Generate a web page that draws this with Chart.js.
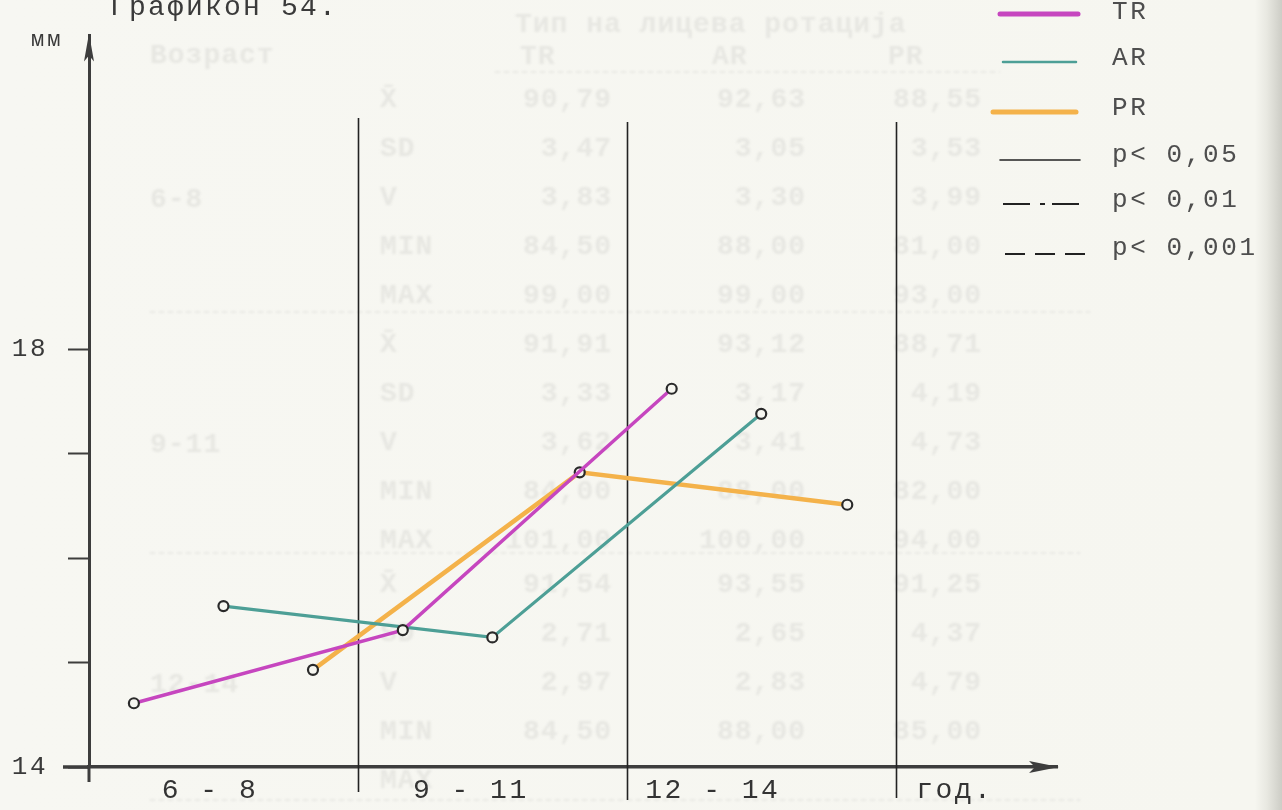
<!DOCTYPE html>
<html>
<head>
<meta charset="utf-8">
<script src="https://cdn.jsdelivr.net/npm/chart.js@4.4.1/dist/chart.umd.min.js"></script>
<style>
  html, body { margin: 0; padding: 0; }
  body {
    width: 1282px; height: 810px; overflow: hidden;
    background: linear-gradient(to right, #f7f7f2 0, #f6f6f0 1255px, #e8e8e1 1267px, #cdcdc6 1282px);
  }
  canvas { display: block; }
</style>
</head>
<body>
<canvas id="chart" width="1282" height="810"></canvas>
<script>
// Data
const titleText = 'Графикон 54.';
const yUnit = 'мм';
const groupLabels = ['6 - 8', '9 - 11', '12 - 14'];
const groupLabelPos = [0.45, 1.42, 2.32];
const xUnit = 'год.';
const xUnitPos = 3.22;
const separators = [1, 2, 3];
const yTickValues = [14, 15, 16, 17, 18];
const yTickLabels = ['14', '', '', '', '18'];

const trX = [0.167, 1.167, 2.167];
const trY = [14.61, 15.31, 17.62];
const arX = [0.5, 1.5, 2.5];
const arY = [15.54, 15.24, 17.38];
const prX = [0.833, 1.825, 2.82];
const prY = [14.93, 16.82, 16.51];

const legendLabels = ['TR', 'AR', 'PR', 'p< 0,05', 'p< 0,01', 'p< 0,001'];

// faint table showing through the paper
const ghostHeader = 'Тип на лицева ротација';
const ghostAge = 'Возраст';
const ghostCols = ['TR', 'AR', 'PR'];
const ghostGroups = ['6-8', '9-11', '12-14'];
const ghostRows = ['X̄', 'SD', 'V', 'MIN', 'MAX'];
const ghostTR = [['90,79', '3,47', '3,83', '84,50', '99,00'], ['91,91', '3,33', '3,62', '84,00', '101,00'], ['91,54', '2,71', '2,97', '84,50', '']];
const ghostAR = [['92,63', '3,05', '3,30', '88,00', '99,00'], ['93,12', '3,17', '3,41', '88,00', '100,00'], ['93,55', '2,65', '2,83', '88,00', '']];
const ghostPR = [['88,55', '3,53', '3,99', '81,00', '93,00'], ['88,71', '4,19', '4,73', '82,00', '94,00'], ['91,25', '4,37', '4,79', '85,00', '']];

const trColor = '#c646bf';
const arColor = '#4d9f96';
const prColor = '#f4b24a';
const dotEdge = '#2a2a2a';
const dotFill = '#f6f6f0';

const pts = (xs, ys) => xs.map((x, i) => ({ x, y: ys[i] }));

const paperPlugin = {
  id: 'paper',
  beforeDraw(chart) {
    const c = chart.ctx;
    c.save();
    c.fillStyle = '#e7e7e2';
    c.strokeStyle = '#e9e9e4';
    c.filter = 'blur(0.8px)';
    c.letterSpacing = '1px';
    c.font = 'bold 28px "Liberation Mono"';
    c.textBaseline = 'middle';
    c.textAlign = 'left';
    c.fillText(ghostHeader, 515, 25);
    c.fillText(ghostAge, 150, 56);
    c.fillText(ghostCols[0], 520, 57);
    c.fillText(ghostCols[1], 712, 57);
    c.fillText(ghostCols[2], 888, 57);
    const bases = [100, 345, 585];
    bases.forEach((b, g) => {
      c.textAlign = 'left';
      c.fillText(ghostGroups[g], 150, b + 100);
      ghostRows.forEach((r, i) => {
        const y = b + i * 49;
        c.textAlign = 'left';
        c.fillText(r, 380, y);
        c.textAlign = 'right';
        c.fillText(ghostTR[g][i], 612, y);
        c.fillText(ghostAR[g][i], 806, y);
        c.fillText(ghostPR[g][i], 982, y);
      });
    });
    c.setLineDash([5, 4]);
    c.lineWidth = 2;
    [[495, 1000, 72], [150, 1090, 312], [150, 1080, 553], [150, 1080, 800]].forEach(([a, b, y]) => {
      c.beginPath(); c.moveTo(a, y); c.lineTo(b, y); c.stroke();
    });
    c.restore();
    // typewriter spacing for the axis labels drawn next
    c.letterSpacing = '2.5px';
  },
  beforeDatasetsDraw(chart) {
    const c = chart.ctx;
    const xs = chart.scales.x;
    c.save();
    c.letterSpacing = '0px';
    c.strokeStyle = '#222';
    c.lineWidth = 1.6;
    const tops = [118, 122, 122];
    const bottoms = [792, 800, 798];
    separators.forEach((v, i) => {
      const px = Math.round(xs.getPixelForValue(v)) + 0.5;
      c.beginPath(); c.moveTo(px, tops[i]); c.lineTo(px, bottoms[i]); c.stroke();
    });
    c.restore();
  },
  afterDraw(chart) {
    const c = chart.ctx;
    const a = chart.chartArea;
    c.save();
    c.letterSpacing = '0px';
    // axis extensions and arrows
    c.strokeStyle = '#3d3d3d';
    c.fillStyle = '#3d3d3d';
    c.lineWidth = 3.5;
    c.beginPath(); c.moveTo(63, a.bottom); c.lineTo(a.left, a.bottom); c.stroke();
    c.lineWidth = 3;
    c.beginPath(); c.moveTo(a.left, a.bottom); c.lineTo(a.left, a.bottom + 15); c.stroke();
    c.beginPath();
    c.moveTo(a.left, a.top - 2); c.lineTo(a.left + 5, a.top + 26); c.lineTo(a.left, a.top + 20); c.lineTo(a.left - 5, a.top + 26);
    c.closePath(); c.fill();
    c.beginPath();
    c.moveTo(a.right + 2, a.bottom); c.lineTo(a.right - 28, a.bottom - 6); c.lineTo(a.right - 22, a.bottom); c.lineTo(a.right - 28, a.bottom + 6);
    c.closePath(); c.fill();

    // title and unit
    c.fillStyle = '#3a3a3a';
    c.textAlign = 'left';
    c.textBaseline = 'alphabetic';
    c.letterSpacing = '2.2px';
    c.font = '28px "Liberation Mono"';
    c.fillText(titleText, 110, 15);
    c.letterSpacing = '3px';
    c.font = '22px "Liberation Mono"';
    c.fillText(yUnit, 31, 46);

    // legend
    const items = [
      { color: trColor, w: 5, dash: [], x0: 1000, x1: 1078, y: 14 },
      { color: arColor, w: 2.5, dash: [], x0: 1003, x1: 1076, y: 62 },
      { color: prColor, w: 5, dash: [], x0: 993, x1: 1076, y: 112 },
      { color: '#222', w: 1.6, dash: [], x0: 1000, x1: 1080, y: 160 },
      { color: '#222', w: 1.8, dash: [27, 10, 5, 7], x0: 1003, x1: 1082, y: 204 },
      { color: '#222', w: 1.8, dash: [20, 10], x0: 1005, x1: 1085, y: 254 }
    ];
    const textY = [12, 58, 108, 155, 200, 248];
    items.forEach((it, i) => {
      c.save();
      c.strokeStyle = it.color;
      c.lineWidth = it.w;
      c.lineCap = it.dash.length ? 'butt' : 'round';
      c.setLineDash(it.dash);
      c.beginPath(); c.moveTo(it.x0, it.y); c.lineTo(it.x1, it.y); c.stroke();
      c.restore();
      c.fillStyle = '#4e4e4e';
      c.textBaseline = 'middle';
      c.letterSpacing = '2.6px';
      c.font = '26px "Liberation Mono"';
      c.fillText(legendLabels[i], 1112, textY[i]);
    });
    c.restore();
  }
};

const ctx = document.getElementById('chart').getContext('2d');
const chart = new Chart(ctx, {
  type: 'line',
  data: {
    datasets: [
      { label: 'TR', data: pts(trX, trY), borderColor: trColor, borderWidth: 3.4 },
      { label: 'AR', data: pts(arX, arY), borderColor: arColor, borderWidth: 3.2 },
      { label: 'PR', data: pts(prX, prY), borderColor: prColor, borderWidth: 4.5 }
    ].map(d => Object.assign(d, {
      pointRadius: 5, pointBorderWidth: 2.2, pointBorderColor: dotEdge, pointBackgroundColor: dotFill
    }))
  },
  options: {
    responsive: false,
    animation: false,
    events: [],
    elements: {
      line: { tension: 0, fill: false, borderCapStyle: 'round' }
    },
    layout: { padding: { left: 0, top: 35, right: 225, bottom: 0 } },
    scales: {
      x: {
        type: 'linear', min: 0, max: 3.6,
        afterFit(s) { s.height = 43; },
        afterBuildTicks(s) { s.ticks = groupLabelPos.concat([xUnitPos]).map(v => ({ value: v })); },
        grid: { display: true, drawOnChartArea: false, drawTicks: false },
        border: { display: true, color: '#3d3d3d', width: 3.5 },
        ticks: {
          padding: 7,
          autoSkip: false,
          maxRotation: 0,
          color: '#333',
          font: { family: 'Liberation Mono', size: 28 },
          callback: (v, i) => i < groupLabels.length ? groupLabels[i] : xUnit
        }
      },
      y: {
        type: 'linear', min: 14, max: 21,
        afterFit(s) { s.width = 89; },
        afterBuildTicks(s) { s.ticks = yTickValues.map(v => ({ value: v })); },
        grid: { display: true, drawOnChartArea: false, drawTicks: true, tickLength: 21, tickWidth: 2, tickColor: '#3d3d3d' },
        border: { display: true, color: '#3d3d3d', width: 3 },
        ticks: {
          padding: 20,
          color: '#3a3a3a',
          font: { family: 'Liberation Mono', size: 26 },
          callback: (v, i) => yTickLabels[i]
        }
      }
    },
    plugins: { legend: { display: false }, tooltip: { enabled: false } }
  },
  plugins: [paperPlugin]
});
</script>
</body>
</html>
